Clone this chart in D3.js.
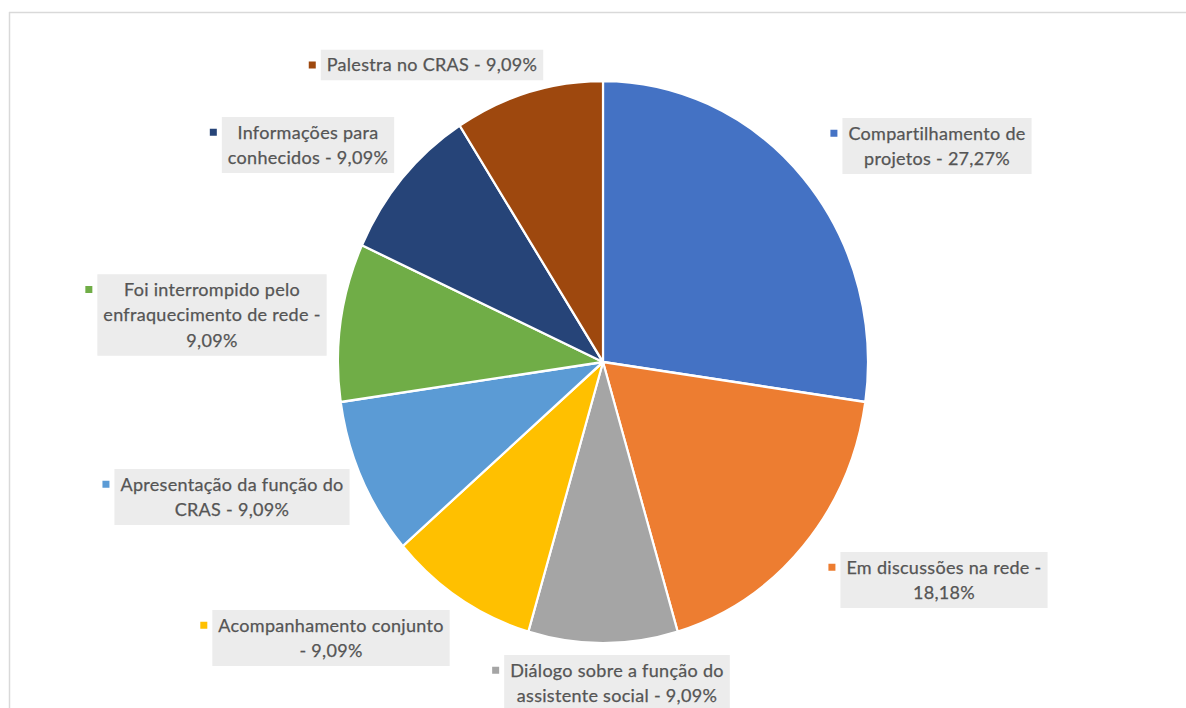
<!DOCTYPE html>
<html>
<head>
<meta charset="utf-8">
<script src="https://cdn.jsdelivr.net/npm/d3@7"></script>
<style>
  html, body { margin: 0; padding: 0; background: #ffffff; }
  svg { display: block; }
</style>
</head>
<body>
<svg id="chart" width="1186" height="708"></svg>
<script>
// Categories (clockwise from 12 o'clock) and their shares in percent
const categories = [
  "Compartilhamento de projetos",
  "Em discussões na rede",
  "Diálogo sobre a função do assistente social",
  "Acompanhamento conjunto",
  "Apresentação da função do CRAS",
  "Foi interrompido pelo enfraquecimento de rede",
  "Informações para conhecidos",
  "Palestra no CRAS"
];
const values = [27.27, 18.18, 9.09, 9.09, 9.09, 9.09, 9.09, 9.09];
const valueLabels = ["27,27%", "18,18%", "9,09%", "9,09%", "9,09%", "9,09%", "9,09%", "9,09%"];

// Wrapped label lines as they appear next to the pie
const labelLines = [
  ["Compartilhamento de", "projetos - 27,27%"],
  ["Em discussões na rede -", "18,18%"],
  ["Diálogo sobre a função do", "assistente social - 9,09%"],
  ["Acompanhamento conjunto", "- 9,09%"],
  ["Apresentação da função do", "CRAS - 9,09%"],
  ["Foi interrompido pelo", "enfraquecimento de rede -", "9,09%"],
  ["Informações para", "conhecidos - 9,09%"],
  ["Palestra no CRAS - 9,09%"]
];

const colors = ["#4472C4", "#ED7D31", "#A5A5A5", "#FFC000", "#5B9BD5", "#70AD47", "#264478", "#9E480E"];

// Label box centres
const labelPos = [
  [937, 146], [944, 580], [617, 683], [331, 638],
  [232, 497], [212, 315], [308, 145], [432, 65]
];

const svg = d3.select("#chart");

// Chart frame
svg.append("line").attr("x1", 9).attr("x2", 1186).attr("y1", 12.5).attr("y2", 12.5)
  .attr("stroke", "#d9d9d9").attr("stroke-width", 1.5);
svg.append("line").attr("x1", 9.5).attr("x2", 9.5).attr("y1", 12).attr("y2", 708)
  .attr("stroke", "#d9d9d9").attr("stroke-width", 1.5);

const cx = 603, cy = 362, r = 265, yScale = 281 / 265;

const pie = d3.pie().sort(null).value(d => d);
const arc = d3.arc().innerRadius(0).outerRadius(r);

const g = svg.append("g")
  .attr("transform", `translate(${cx},${cy}) scale(1,${yScale})`);

g.selectAll("path")
  .data(pie(values))
  .join("path")
  .attr("d", arc)
  .attr("fill", (d, i) => colors[i])
  .attr("stroke", "#ffffff")
  .attr("stroke-width", 2.2)
  .attr("stroke-linejoin", "round");

// Data labels with grey boxes and colour markers
const lineH = 25.5;
const fontSize = 18;
labelLines.forEach((lines, i) => {
  const [lx, ly] = labelPos[i];
  const lg = svg.append("g");
  const rect = lg.append("rect").attr("fill", "#ececec");
  const n = lines.length;
  const top = ly - (n * lineH) / 2;
  let maxW = 0;
  lines.forEach((t, k) => {
    const tx = lg.append("text")
      .attr("x", lx)
      .attr("y", top + lineH * k + lineH / 2)
      .attr("dy", "0.35em")
      .attr("text-anchor", "middle")
      .attr("font-family", "Lato, 'Open Sans', sans-serif")
      .attr("font-size", fontSize)
      .attr("letter-spacing", 0.3)
      .attr("fill", "#555555")
      .attr("stroke", "#555555")
      .attr("stroke-width", 0.25)
      .text(t);
    maxW = Math.max(maxW, tx.node().getComputedTextLength());
  });
  const w = maxW + 12;
  const h = n * lineH + 5;
  rect.attr("x", lx - w / 2).attr("y", ly - h / 2).attr("width", w).attr("height", h);
  lg.append("rect")
    .attr("x", lx - w / 2 - 12)
    .attr("y", top + lineH / 2 - 3.5)
    .attr("width", 7).attr("height", 7)
    .attr("fill", colors[i]);
});
</script>
</body>
</html>
